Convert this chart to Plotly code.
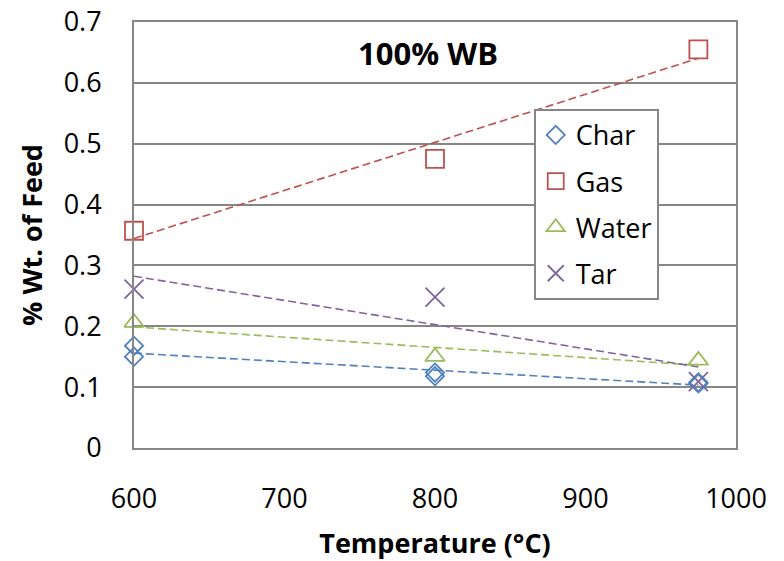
import numpy as np
import plotly.graph_objects as go

# Yield fractions vs. temperature, 100% WB feed
char_T = [600, 600, 800, 800, 975, 975]
char_y = [0.168, 0.150, 0.124, 0.118, 0.108, 0.106]
gas_T = [600, 800, 975]
gas_y = [0.357, 0.475, 0.655]
water_T = [600, 800, 975]
water_y = [0.206, 0.150, 0.144]
tar_T = [600, 800, 975]
tar_y = [0.261, 0.248, 0.109]

x_ticks = [600, 700, 800, 900, 1000]
y_ticks = [0, 0.1, 0.2, 0.3, 0.4, 0.5, 0.6, 0.7]

FONT = "Open Sans"
series = [
    ("Char", char_T, char_y, "#4F81BD", "diamond-open", 14),
    ("Gas", gas_T, gas_y, "#C0504D", "square-open", 18),
    ("Water", water_T, water_y, "#9BBB59", "triangle-up-open", 17),
    ("Tar", tar_T, tar_y, "#8064A2", "x-thin-open", 19),
]

fig = go.Figure()
for name, xs, ys, color, sym, size in series:
    # linear trendline over the data range
    slope, icpt = np.polyfit(xs, ys, 1)
    tx = np.array([min(xs), max(xs)], dtype=float)
    fig.add_trace(go.Scatter(
        x=tx, y=slope * tx + icpt, mode="lines", showlegend=False,
        line=dict(color=color, width=1.6, dash="8px,4px"),
        hoverinfo="skip", cliponaxis=False,
    ))
for name, xs, ys, color, sym, size in series:
    fig.add_trace(go.Scatter(
        x=xs, y=ys, mode="markers", name=name, legendgroup=name,
        marker=dict(symbol=sym, size=size, color=color,
                    line=dict(color=color, width=1.8)),
        cliponaxis=False,
    ))

axis_common = dict(
    showline=True, linecolor="#868686", linewidth=2, mirror=True,
    ticks="", zeroline=False, automargin=False,
    tickfont=dict(family=FONT, size=27, color="#000000"),
)
fig.update_xaxes(
    range=[600, 1000], tickvals=x_ticks, showgrid=False,
    ticklabelstandoff=26,
    title=dict(text="<b>Temperature (°C)</b>",
               font=dict(family=FONT, size=27, color="#000000"), standoff=20),
    **axis_common,
)
fig.update_yaxes(
    range=[0, 0.7], tickvals=y_ticks, showgrid=True,
    gridcolor="#868686", gridwidth=2, ticklabelstandoff=25,
    title=dict(text="<b>% Wt. of Feed</b>",
               font=dict(family=FONT, size=27, color="#000000"), standoff=13),
    **axis_common,
)

fig.update_layout(
    width=784, height=561,
    margin=dict(l=134, r=48, t=22, b=113),
    paper_bgcolor="#FFFFFF", plot_bgcolor="#FFFFFF",
    font=dict(family=FONT, color="#000000"),
    legend=dict(
        x=0.664, y=0.796, xanchor="left", yanchor="top",
        bgcolor="#FFFFFF", bordercolor="#868686", borderwidth=2,
        font=dict(family=FONT, size=27, color="#000000"),
        traceorder="grouped", tracegroupgap=8,
    ),
    annotations=[dict(
        text="<b>100% WB</b>", x=0.488, y=0.927, xref="paper", yref="paper",
        xanchor="center", yanchor="middle",
        showarrow=False, font=dict(family=FONT, size=31, color="#000000"),
    )],
)

fig.write_html("out.html")
